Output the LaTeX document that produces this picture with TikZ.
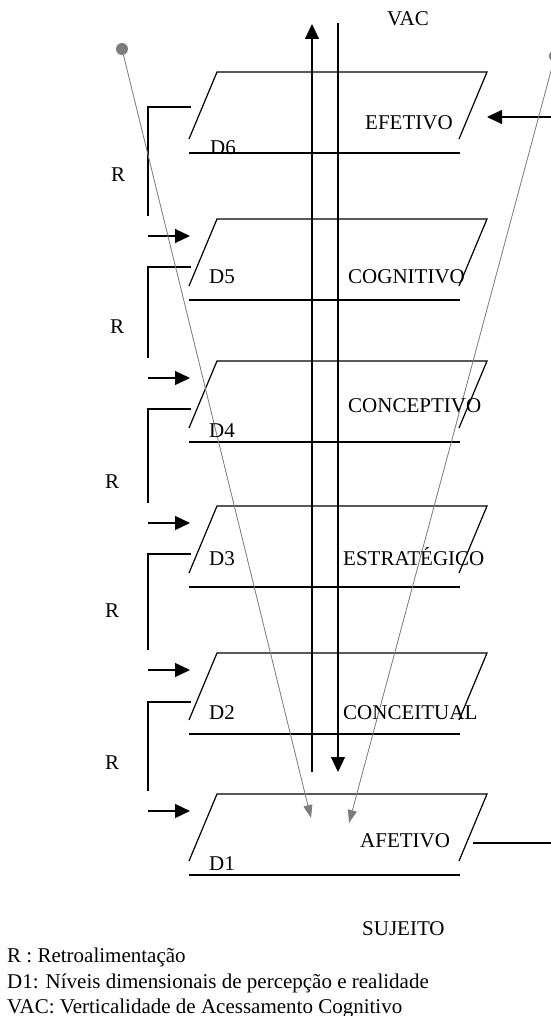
\documentclass[tikz,border=0pt]{standalone}
\usepackage{fontspec}
\setmainfont{Liberation Serif}
\usetikzlibrary{arrows.meta, calc}
\definecolor{raygray}{RGB}{125,125,125}

\begin{document}
\begin{tikzpicture}[x=1pt, y=-1pt,
        lbl/.style={inner sep=0pt, anchor=base west, font=\fontsize{21}{25}\selectfont},
        edge/.style={line width=1.2pt},
        arrow/.style={-{Triangle[length=15pt, width=14pt]}, line width=1.2pt},
        ray/.style={-{Triangle[length=13pt, width=9pt]}, draw=raygray, fill=raygray, line width=0.8pt},
        dot/.style={circle, fill=raygray, inner sep=0pt, minimum size=12pt}
    ]
        \useasboundingbox (0,0) rectangle (550,1016);

        % planes D6 ... D1
        \foreach \t/\i/\o in {72/6/35, 219/5/48, 361/4/48, 506/3/48, 653/2/49, 794/1/48} {
            \draw[edge] (189,\t+67) -- (217,\t) -- (487,\t) -- (459,\t+67);
            \draw[edge] (189,\t+81) -- (460,\t+81);
            \coordinate (IN\i) at (190,\t+17);
            \coordinate (OUT\i) at (191,\t+\o);
        }

        % feedback R
        \foreach \i/\j in {6/5, 5/4, 4/3, 3/2, 2/1} {
            \draw[edge] (OUT\i) -| ($(IN\j)+(-42,-20)$);
            \draw[arrow] ($(IN\j)+(-42,0)$) -- (IN\j);
        }

        % VAC
        \coordinate (UPFOOT) at (312,772);
        \coordinate (UPTIP) at (312,24);
        \coordinate (DOWNTOP) at (338,23);
        \coordinate (DOWNTIP) at (338,772);
        \draw[arrow] (UPFOOT) -- (UPTIP);
        \draw[arrow] (DOWNTOP) -- (DOWNTIP);

        % loop AFETIVO -> EFETIVO
        \coordinate (LOOPIN) at (551,117);
        \coordinate (EFIN) at (487,117);
        \coordinate (AFOUT) at (473,843);
        \coordinate (LOOPOUT) at (551,843);
        \draw[arrow] (LOOPIN) -- (EFIN);
        \draw[edge] (AFOUT) -- (LOOPOUT);

        % gray rays
        \node[dot] (EYEL) at (122,49) {};
        \node[dot] (EYER) at (555,56) {};
        \coordinate (HITL) at (311,818);
        \coordinate (HITR) at (349,823);
        \draw[ray] (EYEL) -- (HITL);
        \draw[ray] (EYER) -- (HITR);

        \node[lbl] (VAC) at (387,26) {VAC};
        \node[lbl] (EFETIVO) at (365,130) {EFETIVO};
        \node[lbl] (D6) at (210,155) {D6};
        \node[lbl] (COGNITIVO) at (348,283) {COGNITIVO};
        \node[lbl] (D5) at (209,283) {D5};
        \node[lbl] (CONCEPTIVO) at (348,412) {CONCEPTIVO};
        \node[lbl] (D4) at (209,437) {D4};
        \node[lbl] (ESTRATEGICO) at (343,565) {ESTRATÉGICO};
        \node[lbl] (D3) at (209,565) {D3};
        \node[lbl] (CONCEITUAL) at (343,719) {CONCEITUAL};
        \node[lbl] (D2) at (209,719) {D2};
        \node[lbl] (AFETIVO) at (360,847) {AFETIVO};
        \node[lbl] (D1) at (209,870) {D1};
        \node[lbl] (SUJEITO) at (362,935) {SUJEITO};

        \node[lbl] (R6) at (111,182) {R};
        \node[lbl] (R5) at (110,333) {R};
        \node[lbl] (R4) at (105,488) {R};
        \node[lbl] (R3) at (105,617) {R};
        \node[lbl] (R2) at (105,769) {R};

        % legend
        \node[lbl] (LEGR) at (7,962) {R : Retroalimentação};
        \node[lbl] (LEGD) at (7,988) {D1: Níveis dimensionais de percepção e realidade};
        \node[lbl] (LEGV) at (7,1013) {VAC: Verticalidade de Acessamento Cognitivo};
    \end{tikzpicture}
\end{document}
